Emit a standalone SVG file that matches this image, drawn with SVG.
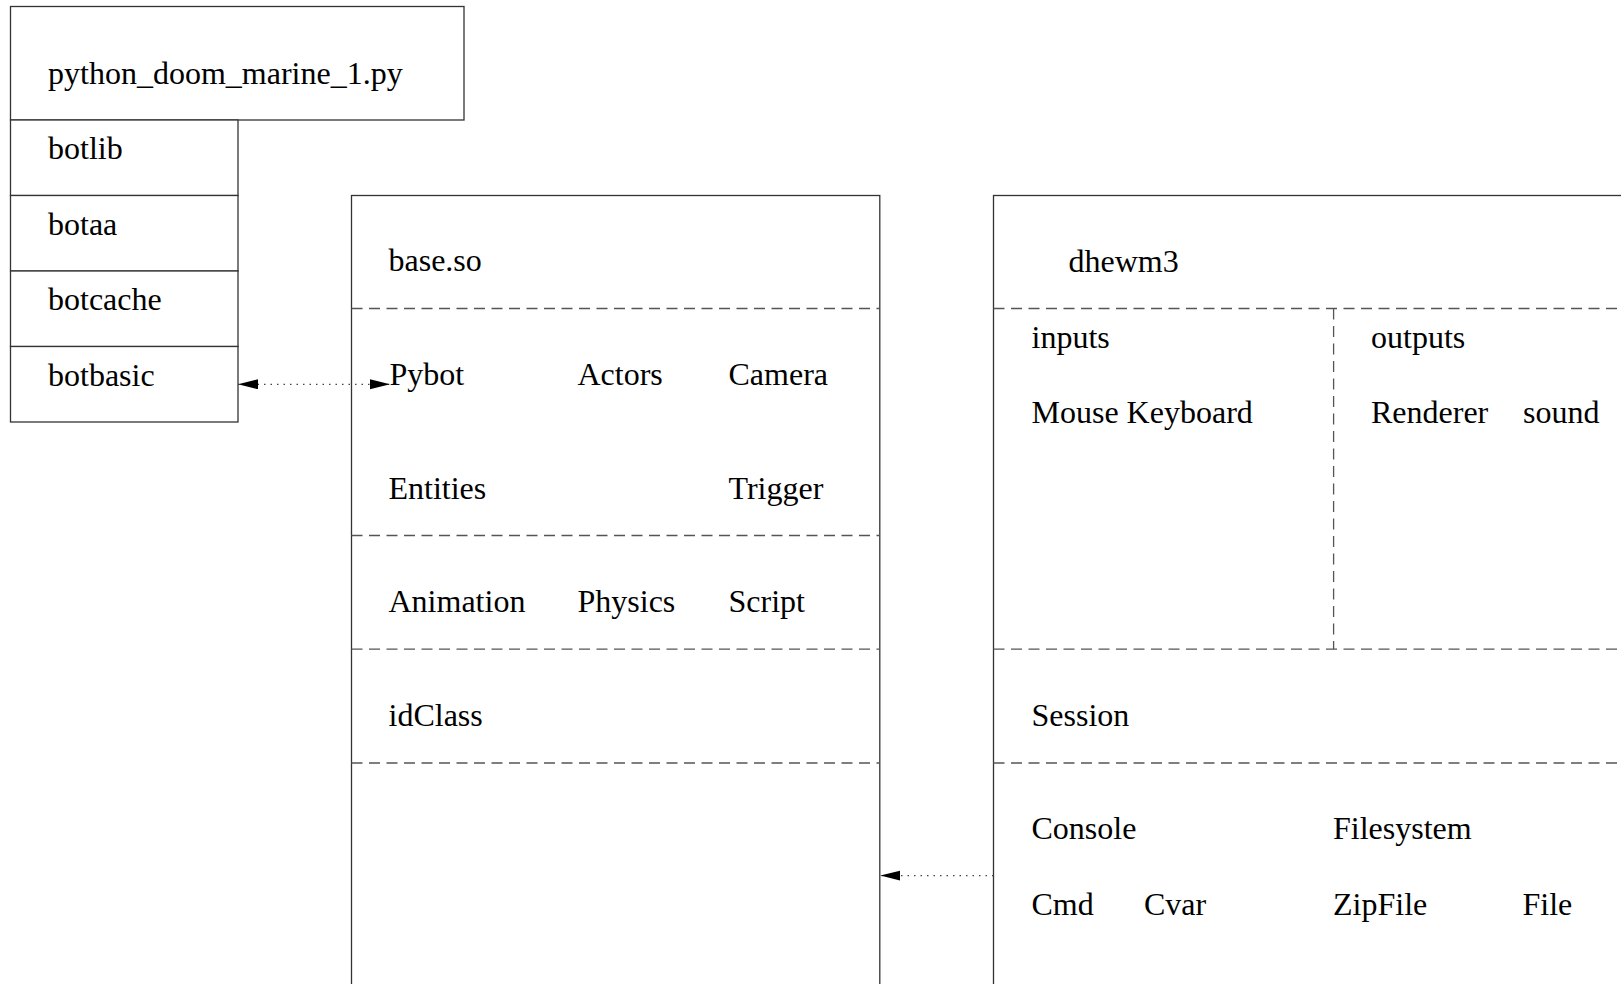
<svg xmlns="http://www.w3.org/2000/svg" width="1621" height="984" viewBox="0 0 1621 984">
<style>
  .box { fill: #ffffff; stroke: #333333; stroke-width: 1.3; }
  .sep { fill: none; stroke: #555555; stroke-width: 1.3; stroke-dasharray: 11 6.5; }
  .lbl { font-family: "Liberation Serif", "Times New Roman", serif; font-size: 32px; fill: #000000; }
  .conn { fill: none; stroke: #444444; stroke-width: 1.3; stroke-dasharray: 1.5 5; }
</style>
<defs>
  <marker id="arrow" markerUnits="userSpaceOnUse" markerWidth="21" markerHeight="12" refX="20" refY="5" orient="auto-start-reverse">
    <path d="M0,0 L20,5 L0,10 z" fill="#000000"/>
  </marker>
</defs>
<rect width="1621" height="984" fill="#ffffff"/>

<g id="python_doom_marine">
  <rect class="box" x="10.5" y="6.5" width="453.5" height="113.5"/>
  <text class="lbl" x="48" y="83.5">python_doom_marine_1.py</text>
</g>
<g id="botlib">
  <rect class="box" x="10.5" y="120" width="227.5" height="75.5"/>
  <text class="lbl" x="48" y="159.3">botlib</text>
</g>
<g id="botaa">
  <rect class="box" x="10.5" y="195.5" width="227.5" height="75.5"/>
  <text class="lbl" x="48" y="234.8">botaa</text>
</g>
<g id="botcache">
  <rect class="box" x="10.5" y="271" width="227.5" height="75.5"/>
  <text class="lbl" x="48" y="310.3">botcache</text>
</g>
<g id="botbasic">
  <rect class="box" x="10.5" y="346.5" width="227.5" height="75.5"/>
  <text class="lbl" x="48" y="385.7">botbasic</text>
</g>

<g id="base_so">
  <rect class="box" x="351.5" y="195.5" width="528.3" height="820"/>
  <line class="sep" x1="351.5" y1="308.5" x2="879.8" y2="308.5"/>
  <line class="sep" x1="351.5" y1="535.5" x2="879.8" y2="535.5"/>
  <line class="sep" x1="351.5" y1="649.2" x2="879.8" y2="649.2"/>
  <line class="sep" x1="351.5" y1="763" x2="879.8" y2="763"/>
  <text class="lbl" x="388.5" y="271">base.so</text>
  <text class="lbl" x="389.5" y="385">Pybot</text>
  <text class="lbl" x="577.5" y="385">Actors</text>
  <text class="lbl" x="728.5" y="385">Camera</text>
  <text class="lbl" x="388.5" y="498.5">Entities</text>
  <text class="lbl" x="728.5" y="498.5">Trigger</text>
  <text class="lbl" x="388.5" y="612.2">Animation</text>
  <text class="lbl" x="577.5" y="612.2">Physics</text>
  <text class="lbl" x="728.5" y="612.2">Script</text>
  <text class="lbl" x="388.5" y="726">idClass</text>
</g>

<g id="dhewm3">
  <rect class="box" x="993.5" y="195.5" width="700" height="820"/>
  <line class="sep" x1="993.5" y1="308.5" x2="1621" y2="308.5"/>
  <line class="sep" x1="1333.6" y1="308.5" x2="1333.6" y2="649.2"/>
  <line class="sep" x1="993.5" y1="649.2" x2="1621" y2="649.2"/>
  <line class="sep" x1="993.5" y1="763" x2="1621" y2="763"/>
  <text class="lbl" x="1068.5" y="272">dhewm3</text>
  <text class="lbl" x="1031.5" y="347.5">inputs</text>
  <text class="lbl" x="1371" y="347.5">outputs</text>
  <text class="lbl" x="1031.5" y="422.5">Mouse Keyboard</text>
  <text class="lbl" x="1371" y="422.5">Renderer</text>
  <text class="lbl" x="1523" y="422.5">sound</text>
  <text class="lbl" x="1031.5" y="726">Session</text>
  <text class="lbl" x="1031.5" y="839">Console</text>
  <text class="lbl" x="1333" y="839">Filesystem</text>
  <text class="lbl" x="1031.5" y="915">Cmd</text>
  <text class="lbl" x="1144" y="915">Cvar</text>
  <text class="lbl" x="1333" y="915">ZipFile</text>
  <text class="lbl" x="1522.5" y="915">File</text>
</g>

<g id="connectors">
  <line class="conn" x1="238" y1="384.3" x2="390" y2="384.3" marker-start="url(#arrow)" marker-end="url(#arrow)"/>
  <line class="conn" x1="993.5" y1="875.6" x2="880.3" y2="875.6" marker-end="url(#arrow)"/>
</g>
</svg>
